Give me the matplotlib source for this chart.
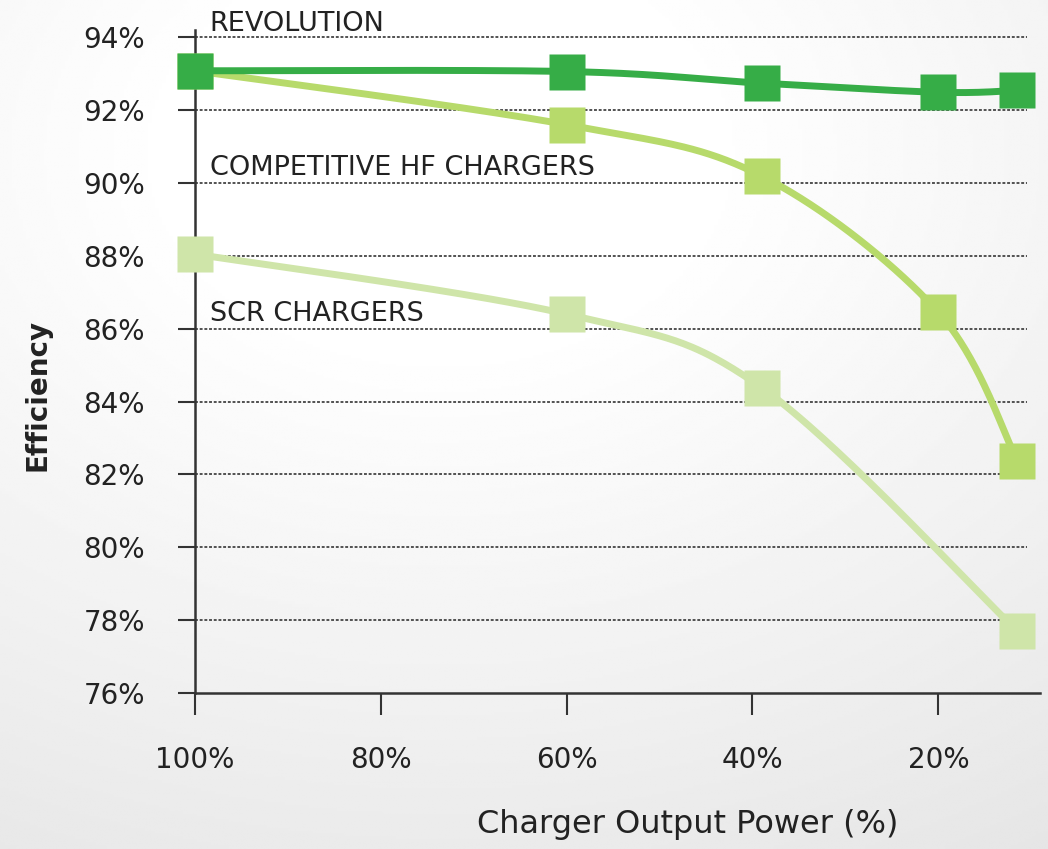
import numpy as np
import matplotlib
matplotlib.use("Agg")
import matplotlib.pyplot as plt

# ---- data ----
rev_x = [100, 60, 39, 20, 11.5]
rev_y = [93.08, 93.06, 92.74, 92.49, 92.54]
comp_x = [100, 60, 39, 20, 11.5]
comp_y = [93.08, 91.6, 90.19, 86.45, 82.37]
scr_x = [100, 60, 39, 11.5]
scr_y = [88.05, 86.4, 84.38, 77.7]
y_ticks = [76, 78, 80, 82, 84, 86, 88, 90, 92, 94]
x_ticks = [100, 80, 60, 40, 20]
series_labels = ["REVOLUTION", "COMPETITIVE HF CHARGERS", "SCR CHARGERS"]
label_pos_y = [94.17, 90.21, 86.22]

C_REV = "#36ad47"
C_COMP = "#b7da6b"
C_SCR = "#cfe5a9"


def catmull_rom(x, y, n=60):
    """Smooth line path through the data points (Excel-style smoothing)."""
    P = np.column_stack([x, y]).astype(float)
    P = np.vstack([P[0], P, P[-1]])
    out = []
    for i in range(1, len(P) - 2):
        p0, p1, p2, p3 = P[i - 1], P[i], P[i + 1], P[i + 2]
        t = np.linspace(0, 1, n)[:, None]
        seg = 0.5 * ((2 * p1) + (-p0 + p2) * t + (2 * p0 - 5 * p1 + 4 * p2 - p3) * t ** 2
                     + (-p0 + 3 * p1 - 3 * p2 + p3) * t ** 3)
        out.append(seg)
    out = np.vstack(out)
    return out[:, 0], out[:, 1]


fig = plt.figure(figsize=(10.48, 8.49), dpi=100)

# background gradient
bg = fig.add_axes([0, 0, 1, 1], zorder=-10)
gx, gy = np.meshgrid(np.linspace(0, 1, 300), np.linspace(0, 1, 300))
r = np.sqrt(((gx - 0.42) / 1.0) ** 2 + ((gy - 0.82) / 0.9) ** 2)
val = np.clip(1.0 - 0.12 * np.clip(r - 0.25, 0, None), 0.88, 1.0)
bg.imshow(val, cmap="gray", vmin=0, vmax=1, extent=[0, 1, 0, 1], origin="lower", aspect="auto")
bg.axis("off")

ax = fig.add_axes([0.186, 0.1837, 0.806, 0.781])
ax.patch.set_alpha(0)
ax.set_xlim(100, 9.1)
ax.set_ylim(76, 94.2)

for yt in y_ticks[1:]:
    ax.axhline(yt, xmin=0, xmax=0.985, color="#444444", lw=1.3, ls=(0, (1.6, 1.0)), zorder=1)

for sx, sy, c, z in [(scr_x, scr_y, C_SCR, 3), (comp_x, comp_y, C_COMP, 4), (rev_x, rev_y, C_REV, 5)]:
    lx, ly = catmull_rom(sx, sy)
    ax.plot(lx, ly, color=c, lw=5, solid_capstyle="butt", zorder=z, clip_on=False)
    ax.plot(sx, sy, ls="none", marker="s", ms=26, color=c, mec="none", zorder=z + 0.5, clip_on=False)

for lab, ly in zip(series_labels, label_pos_y):
    ax.text(98.4, ly, lab, fontsize=19.5, color="#222222", ha="left", va="baseline", zorder=6,
            family="DejaVu Sans")

ax.set_yticks(y_ticks)
ax.set_yticklabels([f"{v}%" for v in y_ticks], fontsize=20, color="#222222")
ax.set_xticks(x_ticks)
ax.set_xticklabels([f"{v}%" for v in x_ticks], fontsize=20, color="#222222")
ax.tick_params(axis="y", direction="out", length=12, width=1.5, pad=24, colors="#333333", labelcolor="#222222")
ax.tick_params(axis="x", direction="out", length=16, width=1.5, pad=22, colors="#333333", labelcolor="#222222")

for s in ["top", "right"]:
    ax.spines[s].set_visible(False)
for s in ["left", "bottom"]:
    ax.spines[s].set_color("#333333")
    ax.spines[s].set_linewidth(1.8)

ax.set_ylabel("Efficiency", fontsize=20, fontweight="bold", color="#222222")
ax.set_xlabel("Charger Output Power (%)", fontsize=23, color="#222222")
ax.xaxis.set_label_coords(0.583, -0.175)
ax.yaxis.set_label_coords(-0.17, 0.45)

fig.savefig("out.png", dpi=100)
